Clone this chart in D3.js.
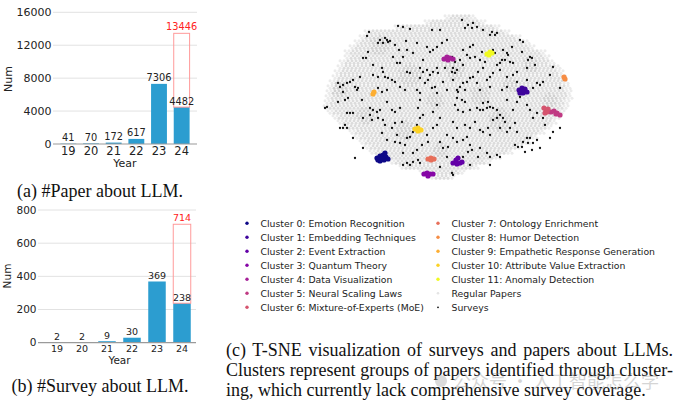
<!DOCTYPE html>
<html><head><meta charset="utf-8">
<script src="https://cdn.jsdelivr.net/npm/d3@7"></script>
<style>body{margin:0;background:#fff}text{font-family:"DejaVu Sans",sans-serif}</style>
</head><body><svg id="c" width="678" height="407"></svg>
<script>
// ---------- data ----------
const years = ['19','20','21','22','23','24'];
const paperCounts = [41,70,172,617,7306,4482];
const paperProjected = 13446;
const paperTicks = [0,4000,8000,12000,16000];
const surveyCounts = [2,2,9,30,369,238];
const surveyProjected = 714;
const surveyTicks = [0,200,400,600,800];

const clusterNames = [
  'Cluster 0: Emotion Recognition','Cluster 1: Embedding Techniques','Cluster 2: Event Extraction',
  'Cluster 3: Quantum Theory','Cluster 4: Data Visualization','Cluster 5: Neural Scaling Laws',
  'Cluster 6: Mixture-of-Experts (MoE)','Cluster 7: Ontology Enrichment','Cluster 8: Humor Detection',
  'Cluster 9: Empathetic Response Generation','Cluster 10: Attribute Value Extraction','Cluster 11: Anomaly Detection'
];
const otherLegend = ['Regular Papers','Surveys'];

// t-SNE coordinates of cluster members, per cluster
const clusterPoints = [
  [[-73,-63],[-70,-61],[-67,-60],[-64,-62],[-62,-64],[-66,-65],[-70,-66],[-72,-65],[-65,-58],[-68,-63]],
  [[69,5],[72,7],[75,6],[77,3],[73,2],[70,2],[72,4]],
  [[3,-68],[6,-65],[8,-63],[10,-68],[7,-69],[12,-67]],
  [[-26,-79],[-23,-78],[-20,-79],[-17,-79],[-22,-81]],
  [[-6,36],[-3,38],[0,37],[3,36],[-2,35]],
  [[101,-17],[104,-16],[107,-18],[110,-20],[106,-19]],
  [[94,-13],[96,-15],[98,-14],[95,-18],[97,-17]],
  [[-22,-64],[-19,-63],[-16,-64],[-19,-65]],
  [[114,18],[115,16]],
  [[-77,1],[-76,3]],
  [[-35,-34],[-32,-33],[-29,-35],[-32,-36]],
  [[37,41],[40,43],[42,42],[39,40]]
];

// t-SNE coordinates of surveys
const surveyXY = [
[-81,63],[-83,59],[-52,69],[-47,68],[-40,66],[-65,57],[-63,55],[-62,53],[-60,54],[-67,52],[-72,52],[-70,55],[-44,54],[-33,52],[-51,45],[-43,45],[-53,32],[-50,32],[-27,35],[-23,48],[-20,43],[-17,45],[-13,48],[-18,65],[-10,65],[-87,37],[-84,37],[-82,43],[-77,30],[-68,27],[-67,23],[-65,18],[-62,17],[-58,15],[-55,13],[-72,18],[-77,20],[-90,18],[-97,15],[-100,13],[-103,12],[-107,10],[-110,8],[-112,12],[-95,8],[-93,5],[-92,7],[-107,3],[-43,23],[-40,22],[-30,27],[-27,23],[-23,25],[-20,20],[-17,23],[-13,27],[-12,22],[-22,15],[-25,12],[-15,8],[-7,13],[-50,8],[-45,5],[-63,5],[-68,3],[-72,7],[-33,5],[-30,2],[-13,2],[-3,5],[-47,38],[-37,42],[-30,17],[-57,38],[-3,55],[-8,52],[-55,50],[-5,27],[-18,7],
[12,75],[18,70],[23,72],[27,68],[22,67],[15,67],[33,65],[40,60],[45,60],[42,63],[47,62],[20,48],[23,50],[13,45],[17,40],[10,35],[20,37],[25,38],[30,35],[35,33],[3,27],[7,25],[5,22],[2,23],[13,30],[53,45],[57,42],[58,40],[55,35],[60,33],[63,32],[52,35],[50,32],[70,55],[73,53],[80,38],[82,37],[78,35],[85,30],[77,27],[67,23],[63,20],[57,18],[50,25],[43,22],[40,18],[37,15],[33,27],[28,23],[23,18],[20,17],[17,13],[13,12],[10,8],[7,5],[3,15],[15,5],[30,5],[52,5],[57,8],[67,13],[77,15],[87,12],[90,10],[93,13],[100,20],[103,28],[110,7],[83,7],[72,43],[62,48],[43,45],[45,42],[8,3],[27,12],[40,8],[47,30],[32,43],[2,38],[5,33],
[-123,-12],[-125,-13],[-112,-7],[-105,-5],[-102,-3],[-103,-18],[-100,-18],[-97,-18],[-88,-5],[-80,-13],[-77,-15],[-73,-17],[-70,-15],[-72,-23],[-67,-25],[-80,-20],[-78,-25],[-87,-23],[-105,-30],[-107,-33],[-110,-33],[-103,-33],[-97,-43],[-87,-53],[-95,-63],[-63,-7],[-58,-15],[-55,-17],[-50,-13],[-48,-27],[-55,-28],[-58,-33],[-53,-40],[-55,-47],[-50,-48],[-45,-50],[-43,-43],[-40,-42],[-37,-37],[-33,-30],[-30,-23],[-27,-20],[-32,-13],[-30,-5],[-17,-17],[-13,-10],[-10,-23],[-13,-30],[-17,-33],[-23,-40],[-22,-47],[-28,-50],[-33,-55],[-37,-58],[-47,-58],[-47,-70],[-43,-68],[-40,-70],[-37,-67],[-32,-65],[-30,-68],[-10,-47],[-7,-53],[-3,-40],[-2,-52],[-10,-72],[-3,-62],[-63,-45],[-68,-38],[-65,-30],
[7,-3],[12,-5],[15,-7],[5,-10],[8,-15],[13,-17],[20,-15],[27,-13],[30,-15],[33,-15],[37,-13],[40,-12],[43,-13],[47,-15],[50,-20],[53,-23],[55,-27],[33,-8],[38,-7],[57,-5],[67,-7],[70,-2],[63,-15],[77,-10],[80,-15],[3,-27],[7,-33],[15,-30],[20,-33],[25,-27],[30,-35],[33,-37],[38,-33],[40,-40],[43,-25],[47,-23],[50,-33],[57,-37],[60,-33],[65,-28],[67,-37],[3,-43],[7,-47],[13,-45],[17,-42],[20,-50],[22,-55],[18,-57],[30,-53],[37,-58],[40,-62],[28,-62],[13,-62],[20,-70],[40,-70],[47,-60],[50,-62],[65,-50],[68,-52],[72,-52],[73,-47],[77,-43],[78,-48],[80,-43],[83,-48],[87,-45],[75,-57],[82,-55],[90,-53],[93,-23],[95,-30],[103,-37],[100,-43],[110,-33],[83,-23],[87,-18],[3,-80],[2,-78]
];

// regular-paper cloud: per t-SNE row [y, xLeft, xRight]
const cloudRows = [
[78,-5,25],[73,-25,35],[68,-55,50],[63,-85,60],[58,-90,70],[53,-95,80],[48,-100,85],[43,-105,95],
[38,-105,100],[33,-110,105],[28,-112,110],[23,-115,113],[18,-117,116],[13,-120,118],[8,-122,120],
[3,-123,122],[-2,-124,122],[-7,-125,120],[-12,-126,118],[-17,-122,115],[-22,-117,110],[-27,-112,106],
[-32,-107,102],[-37,-100,95],[-42,-95,88],[-47,-90,80],[-52,-85,72],[-57,-80,62],[-62,-72,50],
[-67,-60,40],[-72,-50,28],[-77,-30,15],[-82,-20,5]
];
// denser patches of regular papers [x, y, radius]
const cloudDense = [[-40,20,12],[5,25,10],[50,-25,12],[-110,5,8],[80,30,8],[-45,-35,10],[-70,50,10],[30,0,10],[-15,-5,9],[60,10,8],[-85,-20,9],[100,-5,7],[-10,-55,8]];

// ---------- drawing ----------
const svg = d3.select('#c');
const blue = '#2c9dd0';

function barChart(o){
  const g = svg.append('g');
  const x = d3.scaleBand().domain(years).range(o.xRange).paddingInner(0.3).paddingOuter(0.15);
  const y = d3.scaleLinear().domain([0, o.ticks[o.ticks.length-1]]).range(o.yRange);
  g.selectAll('line.grid').data(o.ticks.slice(1)).join('line')
    .attr('x1', o.gridX[0]).attr('x2', o.gridX[1])
    .attr('y1', d=>y(d)).attr('y2', d=>y(d))
    .attr('stroke', '#e2e2e2').attr('stroke-width', 1);
  g.selectAll('text.yt').data(o.ticks).join('text')
    .attr('x', o.labelX).attr('y', d=>y(d)).attr('dy','0.36em')
    .attr('text-anchor','end').attr('font-size', o.yFont).attr('fill','#222').text(d=>d);
  g.selectAll('rect.bar').data(o.counts).join('rect')
    .attr('x', (d,i)=>x(years[i])).attr('width', x.bandwidth())
    .attr('y', d=>y(d)).attr('height', d=>y(0)-y(d))
    .attr('fill', blue);
  const last = years[years.length-1];
  const lastVal = o.counts[o.counts.length-1];
  g.append('rect').attr('x', x(last)).attr('width', x.bandwidth())
    .attr('y', y(o.projected)).attr('height', y(lastVal)-y(o.projected))
    .attr('fill','none').attr('stroke','#ff9a9a').attr('stroke-width',1);
  g.append('text').attr('x', x(last)+x.bandwidth()/2).attr('y', y(o.projected)-3)
    .attr('text-anchor','middle').attr('font-size', o.valFont).attr('fill','#f22').text(o.projected);
  g.append('line').attr('x1', o.gridX[0]).attr('x2', o.gridX[1]).attr('y1', y(0)).attr('y2', y(0))
    .attr('stroke','#9a9a9a').attr('stroke-width',1.2);
  g.selectAll('text.val').data(o.counts).join('text')
    .attr('x', (d,i)=>x(years[i])+x.bandwidth()/2).attr('y', d=>y(d)-2.5)
    .attr('text-anchor','middle').attr('font-size', o.valFont).attr('fill','#222').text(d=>d);
  g.selectAll('text.xt').data(years).join('text')
    .attr('x', d=>x(d)+x.bandwidth()/2).attr('y', o.xTickY)
    .attr('text-anchor','middle').attr('font-size', o.xFont).attr('fill','#222').text(d=>d);
  g.append('text').attr('x', (o.xRange[0]+o.xRange[1])/2).attr('y', o.yearY)
    .attr('text-anchor','middle').attr('font-size', o.yFont).attr('fill','#222').text('Year');
  g.append('text').attr('transform', `translate(${o.numX},${o.numY}) rotate(-90)`)
    .attr('text-anchor','middle').attr('dy','0.36em').attr('font-size', o.yFont).attr('fill','#222').text('Num');
  svg.append('text').attr('x', 100).attr('y', o.capY).attr('text-anchor','middle')
    .style('font-family','"Liberation Serif","Times New Roman",serif').attr('font-size', 18)
    .attr('fill','#111').text(o.caption);
}

barChart({counts: paperCounts, projected: paperProjected, ticks: paperTicks,
  xRange:[57,193], yRange:[144,12.3], gridX:[53,197], labelX:51.5, yFont:11, xFont:11.5, valFont:9.8,
  xTickY:155, yearY:166.5, numX:8.5, numY:79, capY:196.5, caption:'(a) #Paper about LLM.'});
barChart({counts: surveyCounts, projected: surveyProjected, ticks: surveyTicks,
  xRange:[44.5,194.5], yRange:[342.7,210], gridX:[38,196], labelX:36.5, yFont:10.5, xFont:9.5, valFont:9.5,
  xTickY:351.8, yearY:364, numX:7.5, numY:276, capY:392, caption:'(b) #Survey about LLM.'});

// ---------- t-SNE scatter ----------
const sx = d3.scaleLinear().domain([-130,130]).range([320,580]);
const sy = d3.scaleLinear().domain([-85,85]).range([180,10]);
const cloudPts = [];
cloudRows.forEach(([ty,l,r])=>{
  [1.25,-1.25].forEach((dy,k)=>{
    for(let tx=l+(k?2:0); tx<=r; tx+=4){
      const edge = Math.min(tx-l, r-tx) < 6;
      const dense = cloudDense.some(([cx,cy,cr])=>Math.hypot(tx-cx, ty+dy-cy) < cr);
      cloudPts.push({x:tx, y:ty+dy, o: dense?0.95:(edge?0.4:0.7)});
    }
  });
});
const sc = svg.append('g');
sc.selectAll('circle.cl').data(cloudPts).join('circle')
  .attr('cx', d=>sx(d.x)).attr('cy', d=>sy(d.y)).attr('r',1.5)
  .attr('fill','#cdcdcd').attr('fill-opacity', d=>d.o);
sc.selectAll('circle.sv').data(surveyXY).join('circle')
  .attr('cx', d=>sx(d[0])).attr('cy', d=>sy(d[1])).attr('r',1.15).attr('fill','#111');
const plasma = i => d3.interpolatePlasma(i/11);
clusterPoints.forEach((pts,i)=>{
  sc.selectAll('circle.c'+i).data(pts).join('circle')
    .attr('cx', d=>sx(d[0])).attr('cy', d=>sy(d[1])).attr('r',2.6).attr('fill', plasma(i));
});

// ---------- legend ----------
const leg = svg.append('g');
const legItems = clusterNames.map((n,i)=>({n, c:plasma(i), r:1.7}))
  .concat([{n:otherLegend[0], c:'#e4e4e4', r:1.3},{n:otherLegend[1], c:'#111', r:0.9}]);
legItems.forEach((d,i)=>{
  const col = i<7?0:1, row = i<7?i:i-7;
  const mx = col? 438 : 247, y = 223.3 + row*14;
  leg.append('circle').attr('cx', mx).attr('cy', y).attr('r', d.r).attr('fill', d.c);
  leg.append('text').attr('x', mx+13.5).attr('y', y).attr('dy','0.36em')
    .attr('font-size', 9.3).attr('fill','#222').text(d.n);
});

// ---------- caption (c) ----------
const capLines = ['(c) T-SNE visualization of surveys and papers about LLMs.',
  'Clusters represent groups of papers identified through cluster-',
  'ing, which currently lack comprehensive survey coverage.'];
capLines.forEach((t,i)=>{
  const tx = svg.append('text').attr('x',226).attr('y',356+i*20)
    .style('font-family','"Liberation Serif","Times New Roman",serif').attr('font-size',18)
    .attr('fill','#111').text(t);
  if(i<2){
    const w = tx.node().getComputedTextLength();
    const spaces = (t.match(/ /g)||[]).length;
    tx.attr('word-spacing', (673-226-w)/spaces);
  }
});
// watermark
const wm = svg.append('g').attr('opacity',0.35);
wm.append('circle').attr('cx',441).attr('cy',381).attr('r',6).attr('fill','#999');
wm.append('text').attr('x',453).attr('y',388).style('font-family','"Noto Sans CJK SC",sans-serif')
  .attr('font-size',18).attr('fill','#888').text('公众号 · 人工智能怎么学');
</script></body></html>
